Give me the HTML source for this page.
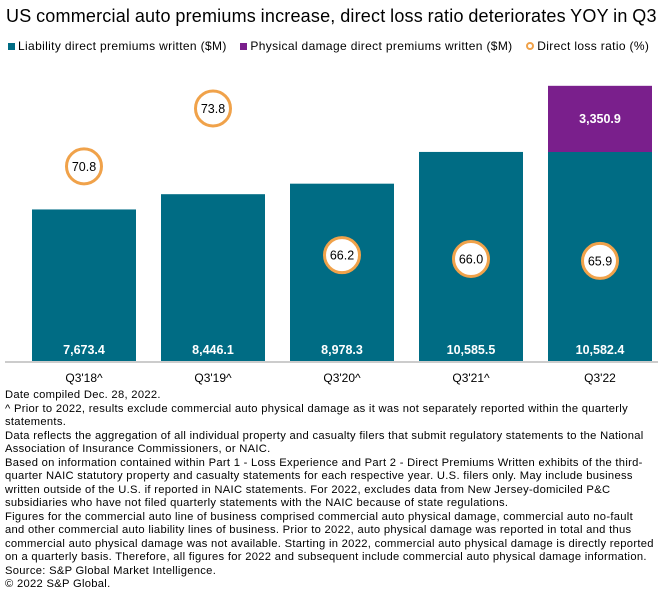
<!DOCTYPE html>
<html><head><meta charset="utf-8"><style>
body{margin:0;width:660px;height:603px;background:#fff;font-family:"Liberation Sans",sans-serif;color:#000;overflow:hidden;position:relative}
#title{position:absolute;left:6px;top:6px;font-size:18px;letter-spacing:0.2px;word-spacing:-0.5px;white-space:nowrap}
#legend{position:absolute;left:8px;top:39px;font-size:12px;letter-spacing:0.35px;white-space:nowrap}
.li{display:inline-block;margin-right:10px}
.sw{display:inline-block;width:7px;height:7px;margin-right:3px}
#chart{position:absolute;left:0;top:0}
#notes{position:absolute;left:5px;top:389px;font-size:11.2px;letter-spacing:0.3px;line-height:13.5px;width:650px}
</style></head><body>
<div id="title">US commercial auto premiums increase, direct loss ratio deteriorates YOY in Q3</div>
<div id="legend">
<span class="li"><span class="sw" style="background:#006c84"></span>Liability direct premiums written ($M)</span>
<span class="li"><span class="sw" style="background:#7a1f8c"></span>Physical damage direct premiums written ($M)</span>
<span class="li"><span class="sw" style="border:2px solid #f0a24a;border-radius:50%;width:4px;height:4px"></span>Direct loss ratio (%)</span>
</div>
<svg id="chart" width="660" height="390"></svg>
<div id="notes">Date compiled Dec. 28, 2022.<br>^ Prior to 2022, results exclude commercial auto physical damage as it was not separately reported within the quarterly statements.<br>Data reflects the aggregation of all individual property and casualty filers that submit regulatory statements to the National Association of Insurance Commissioners, or NAIC.<br>Based on information contained within Part 1 - Loss Experience and Part 2 - Direct Premiums Written exhibits of the third-quarter NAIC statutory property and casualty statements for each respective year. U.S. filers only. May include business written outside of the U.S. if reported in NAIC statements. For 2022, excludes data from New Jersey-domiciled P&amp;C subsidiaries who have not filed quarterly statements with the NAIC because of state regulations.<br>Figures for the commercial auto line of business comprised commercial auto physical damage, commercial auto no-fault and other commercial auto liability lines of business. Prior to 2022, auto physical damage was reported in total and thus commercial auto physical damage was not available. Starting in 2022, commercial auto physical damage is directly reported on a quarterly basis. Therefore, all figures for 2022 and subsequent include commercial auto physical damage information.<br>Source: S&amp;P Global Market Intelligence.<br>© 2022 S&amp;P Global.</div>
<script>
const categories=["Q3'18^","Q3'19^","Q3'20^","Q3'21^","Q3'22"];
const liability=[7673.4,8446.1,8978.3,10585.5,10582.4];
const physical=[0,0,0,0,3350.9];
const lossRatio=[70.8,73.8,66.2,66.0,65.9];
const NS="http://www.w3.org/2000/svg";
const svg=document.getElementById('chart');
const base=361, k=0.01975;
const y=v=>base-v*k;
const x0=32, step=129, bw=104;
const bx=i=>x0+i*step;
const ly=v=>259-(v-66.0)*19.3;
function mk(t,a){const e=document.createElementNS(NS,t);for(const n in a)e.setAttribute(n,a[n]);svg.appendChild(e);return e;}
const fmt=v=>v.toLocaleString('en-US',{minimumFractionDigits:1,maximumFractionDigits:1});
categories.forEach((c,i)=>{
  const r=mk('rect',{x:bx(i),y:y(liability[i]),width:bw,height:liability[i]*k,fill:'#006c84'});
  
  
  const t=mk('text',{x:bx(i)+bw/2,y:354,'text-anchor':'middle',fill:'#fff','font-size':12.5,'font-weight':'bold'});t.textContent=fmt(liability[i]);
  
  
  if(physical[i]>0){
    const p=mk('rect',{x:bx(i),y:y(liability[i]+physical[i]),width:bw,height:physical[i]*k,fill:'#7a1f8c'});
    
    
    const pt=mk('text',{x:bx(i)+bw/2,y:y(liability[i]+physical[i]/2)+4,'text-anchor':'middle',fill:'#fff','font-size':12.5,'font-weight':'bold'});pt.textContent=fmt(physical[i]);
    
    
  }
  const cl=mk('text',{x:bx(i)+bw/2,y:382,'text-anchor':'middle',fill:'#000','font-size':12});cl.textContent=c;
  
  
  const cy=ly(lossRatio[i]);
  const ci=mk('circle',{cx:bx(i)+bw/2,cy:cy,r:17.5,fill:'#fff',stroke:'#f0a24a','stroke-width':3});
  
  
  const lt=mk('text',{x:bx(i)+bw/2,y:cy+4.5,'text-anchor':'middle',fill:'#000','font-size':12.5});lt.textContent=lossRatio[i].toFixed(1);
  
  
});
const ax=mk('line',{x1:5,x2:658,y1:362,y2:362,stroke:'#bbb','stroke-width':1.5});


</script>
</body></html>
